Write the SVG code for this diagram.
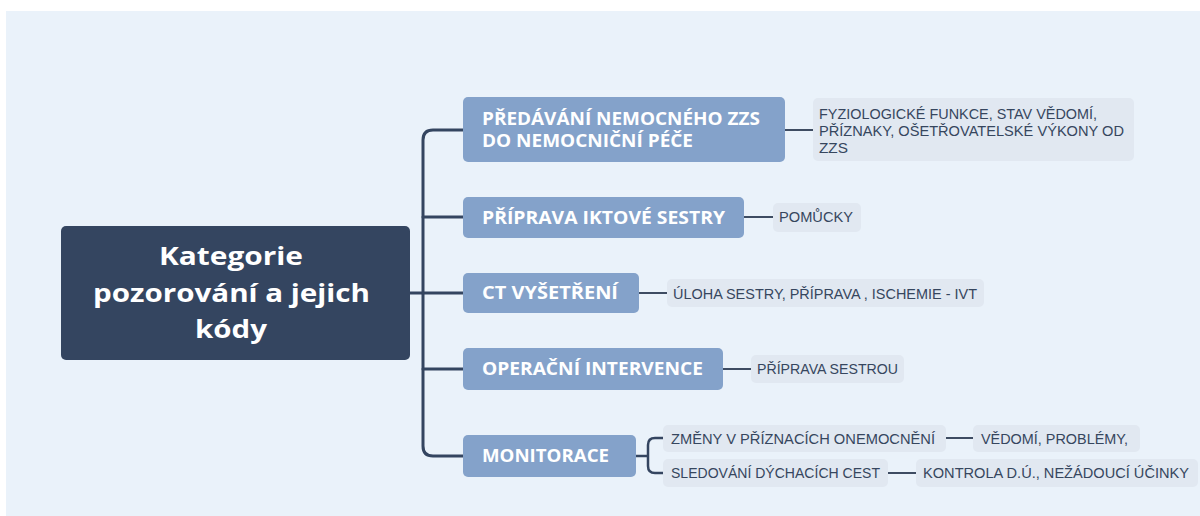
<svg xmlns="http://www.w3.org/2000/svg" width="1200" height="516" viewBox="0 0 1200 516">
<style>
.bg{fill:#EAF2FA}
.root{fill:#344560}
.br{fill:#84A2CA}
.leaf{fill:#E1E8F1}
.rt{font-family:"Open Sans","Liberation Sans",sans-serif;font-weight:700;font-size:25px;fill:#ffffff}
.bt{font-family:"Open Sans","Liberation Sans",sans-serif;font-weight:700;font-size:18px;fill:#ffffff}
.lt{font-family:"Liberation Sans",Arial,sans-serif;font-size:15px;fill:#36465E}
.c1{fill:none;stroke:#344560;stroke-width:3;stroke-linecap:round}
.c2{fill:none;stroke:#344560;stroke-width:2.5}
.c3{fill:none;stroke:#3E4C62;stroke-width:2}
</style>
<rect class="bg" x="6" y="11" width="1194" height="505"/>
<g id="connectors">
<path class="c1" d="M410 293 H423"/>
<path class="c1" d="M463 130 H433 Q423 130 423 140 V446 Q423 456 433 456 H463"/>
<path class="c1" d="M423 217 H463"/>
<path class="c1" d="M423 293 H463"/>
<path class="c1" d="M423 369 H463"/>
<path class="c3" d="M785 130 H813"/>
<path class="c3" d="M744 217 H773"/>
<path class="c3" d="M639 293 H667"/>
<path class="c3" d="M723 369 H751"/>
<path class="c2" d="M636 456 H648"/>
<path class="c2" d="M663 438 H655 Q648 438 648 445 V466 Q648 473 655 473 H663"/>
<path class="c3" d="M946 438 H973"/>
<path class="c3" d="M888 473 H916"/>
</g>
<g id="root">
<rect class="root" x="61" y="226" width="349" height="134" rx="5"/>
<text class="rt" x="159" y="265" textLength="144" lengthAdjust="spacingAndGlyphs">Kategorie</text>
<text class="rt" x="93" y="302" textLength="277" lengthAdjust="spacingAndGlyphs">pozorování a jejich</text>
<text class="rt" x="195" y="338" textLength="72" lengthAdjust="spacingAndGlyphs">kódy</text>
</g>
<g id="b1">
<rect class="br" x="463" y="97" width="322" height="65" rx="5"/>
<text class="bt" x="482" y="125" textLength="278" lengthAdjust="spacingAndGlyphs">PŘEDÁVÁNÍ NEMOCNÉHO ZZS</text>
<text class="bt" x="482" y="147" textLength="211" lengthAdjust="spacingAndGlyphs">DO NEMOCNIČNÍ PÉČE</text>
</g>
<g id="b2">
<rect class="br" x="463" y="197" width="281" height="41" rx="5"/>
<text class="bt" x="482" y="224" textLength="243" lengthAdjust="spacingAndGlyphs">PŘÍPRAVA IKTOVÉ SESTRY</text>
</g>
<g id="b3">
<rect class="br" x="463" y="273" width="176" height="40" rx="5"/>
<text class="bt" x="482" y="299" textLength="136" lengthAdjust="spacingAndGlyphs">CT VYŠETŘENÍ</text>
</g>
<g id="b4">
<rect class="br" x="463" y="348" width="260" height="42" rx="5"/>
<text class="bt" x="482" y="375" textLength="221" lengthAdjust="spacingAndGlyphs">OPERAČNÍ INTERVENCE</text>
</g>
<g id="b5">
<rect class="br" x="463" y="435" width="173" height="42" rx="5"/>
<text class="bt" x="482" y="462" textLength="127" lengthAdjust="spacingAndGlyphs">MONITORACE</text>
</g>
<g id="l1">
<rect class="leaf" x="813" y="98" width="321" height="63" rx="5"/>
<text class="lt" x="819" y="119" textLength="278" lengthAdjust="spacingAndGlyphs">FYZIOLOGICKÉ FUNKCE, STAV VĚDOMÍ,</text>
<text class="lt" x="819" y="136" textLength="305" lengthAdjust="spacingAndGlyphs">PŘÍZNAKY, OŠETŘOVATELSKÉ VÝKONY OD</text>
<text class="lt" x="819" y="153" textLength="29" lengthAdjust="spacingAndGlyphs">ZZS</text>
</g>
<g id="l2">
<rect class="leaf" x="773" y="203" width="88" height="29" rx="5"/>
<text class="lt" x="779" y="222" textLength="74" lengthAdjust="spacingAndGlyphs">POMŮCKY</text>
</g>
<g id="l3">
<rect class="leaf" x="667" y="279" width="317" height="28" rx="5"/>
<text class="lt" x="673" y="299" textLength="304" lengthAdjust="spacingAndGlyphs">ÚLOHA SESTRY, PŘÍPRAVA , ISCHEMIE - IVT</text>
</g>
<g id="l4">
<rect class="leaf" x="751" y="355" width="153" height="28" rx="5"/>
<text class="lt" x="757" y="374" textLength="141" lengthAdjust="spacingAndGlyphs">PŘÍPRAVA SESTROU</text>
</g>
<g id="l5">
<rect class="leaf" x="663" y="425" width="283" height="27" rx="5"/>
<text class="lt" x="671" y="444" textLength="264" lengthAdjust="spacingAndGlyphs">ZMĚNY V PŘÍZNACÍCH ONEMOCNĚNÍ</text>
</g>
<g id="l6">
<rect class="leaf" x="663" y="459" width="225" height="28" rx="5"/>
<text class="lt" x="671" y="478" textLength="209" lengthAdjust="spacingAndGlyphs">SLEDOVÁNÍ DÝCHACÍCH CEST</text>
</g>
<g id="l7">
<rect class="leaf" x="973" y="425" width="167" height="27" rx="5"/>
<text class="lt" x="981" y="444" textLength="147" lengthAdjust="spacingAndGlyphs">VĚDOMÍ, PROBLÉMY,</text>
</g>
<g id="l8">
<rect class="leaf" x="916" y="459" width="282" height="28" rx="5"/>
<text class="lt" x="923" y="478" textLength="266" lengthAdjust="spacingAndGlyphs">KONTROLA D.Ú., NEŽÁDOUCÍ ÚČINKY</text>
</g>
</svg>
